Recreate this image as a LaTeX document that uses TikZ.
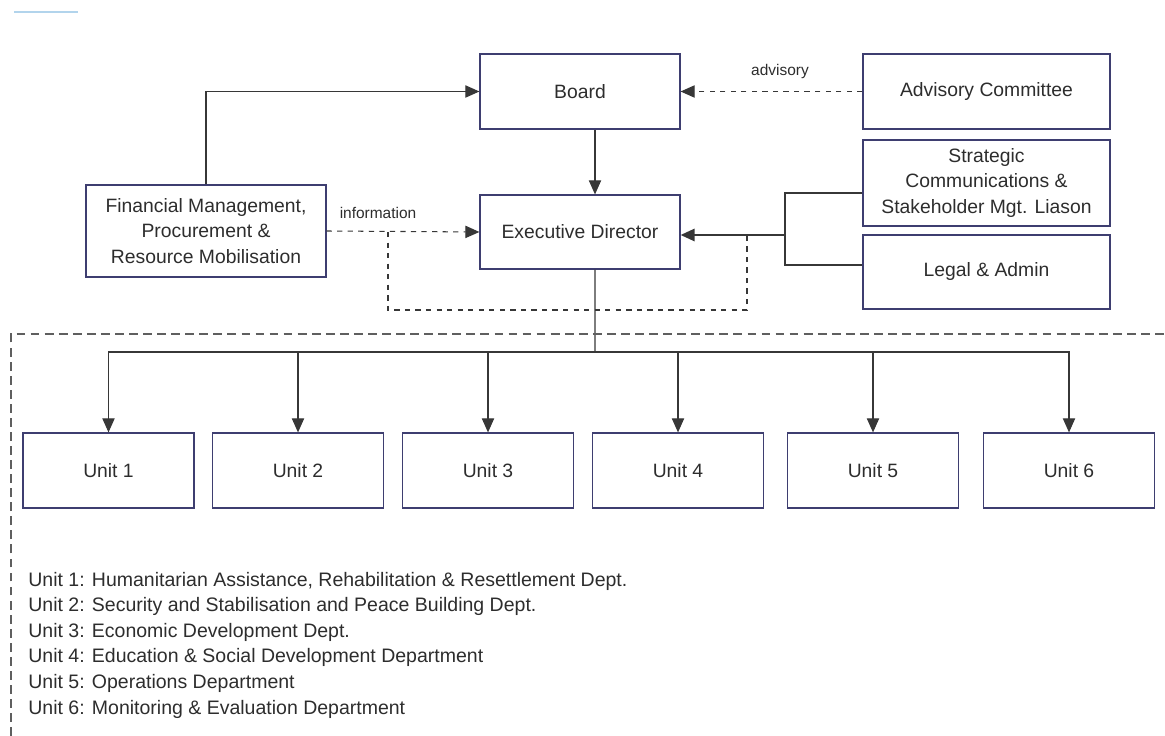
\documentclass[tikz,border=0pt]{standalone}
\usepackage{fontspec}
\setmainfont{Liberation Sans}
\usepackage{xcolor}
\usetikzlibrary{arrows.meta}
\definecolor{boxline}{RGB}{62,62,112}
\definecolor{wire}{RGB}{55,55,55}
\definecolor{txt}{RGB}{45,45,45}
\definecolor{topblue}{RGB}{178,212,236}

\begin{document}
\begin{tikzpicture}[x=0.02cm, y=-0.02cm,
        box/.style={draw=boxline, line width=0.7pt, text=txt, align=center,
            font=\fontsize{11}{14.5}\selectfont, inner sep=0pt},
        unitbox/.style={box, minimum width=3.42cm, minimum height=1.5cm},
        lbl/.style={text=txt, font=\fontsize{8.8}{11}\selectfont, inner sep=0pt},
        key/.style={lbl, font=\fontsize{11.1}{14}\selectfont, anchor=base west},
        conn/.style={draw=wire, line width=0.6pt},
        tip/.style={-{Triangle[length=8pt, width=7pt]}}]
        \useasboundingbox (0,0) rectangle (1165,736);
        \draw[topblue, line width=1.2pt] (14,12) -- (78,12);
        % top level
        \node[box, minimum width=4cm, minimum height=1.5cm](board) at (580,91.5) {Board};
        \node[box, minimum width=4.94cm, minimum height=1.5cm](adv) at (986.5,91.5) {Advisory Committee};
        \node[box, minimum width=4.94cm, minimum height=1.72cm](strat) at (986.5,183) {Strategic\\ Communications \&\\ Stakeholder Mgt. Liason};
        \node[box, minimum width=4.94cm, minimum height=1.48cm](legal) at (986.5,272) {Legal \& Admin};
        \node[box, minimum width=4cm, minimum height=1.48cm](ed) at (580,232) {Executive Director};
        \node[box, minimum width=4.8cm, minimum height=1.84cm](fin) at (206,231) {Financial Management,\\ Procurement \&\\ Resource Mobilisation};
        % units
        \node[unitbox](u1) at (108.5,470.5) {Unit 1};
        \node[unitbox](u2) at (298,470.5) {Unit 2};
        \node[unitbox](u3) at (488,470.5) {Unit 3};
        \node[unitbox](u4) at (678,470.5) {Unit 4};
        \node[unitbox](u5) at (873,470.5) {Unit 5};
        \node[unitbox](u6) at (1069,470.5) {Unit 6};
        % connectors
        \draw[conn, tip](fin.north) |- (board.west);
        \draw[conn, tip]([xshift=0.3cm]board.south) -- ([xshift=0.3cm]ed.north);
        \draw[conn, tip, dashed](adv.west) -- (board.east);
        \node[lbl](advlbl) at (780,72) {advisory};
        \draw[conn, tip, dashed](fin.east) -- (ed.west);
        \node[lbl](infolbl) at (378,213) {information};
        \coordinate(br) at (785,235);
        \draw[conn](strat.west |- 0,193) -| (br) |- (legal.west |- 0,265);
        \draw[conn, line width=1.2pt, tip](br) -- (ed.east |- br);
        \coordinate(la) at (388,232);
        \coordinate(lb) at (747,235);
        \draw[conn, dashed](la) |- (747,310) -- (lb);
        \coordinate(hub) at (595,352);
        \draw[conn]([xshift=0.3cm]ed.south) -- (hub);
        \draw[conn, tip](hub) -| (u1.north);
        \draw[conn, tip](hub) -| (u2.north);
        \draw[conn, tip](hub) -| (u3.north);
        \draw[conn, tip](hub) -| (u4.north);
        \draw[conn, tip](hub) -| (u5.north);
        \draw[conn, tip](hub) -| (u6.north);
        % frame round the units
        \draw[conn, dash pattern=on 5pt off 3pt, draw=wire!80](11,736) -- (11,334) -- (1165,334);
        % legend
        \node[key](k1) at (28,586) {Unit 1: Humanitarian Assistance, Rehabilitation \& Resettlement  Dept.};
        \node[key](k2) at (28,611.5) {Unit 2: Security and Stabilisation and Peace Building Dept.};
        \node[key](k3) at (28,637) {Unit 3: Economic Development Dept.};
        \node[key](k4) at (28,662.5) {Unit 4: Education \& Social Development Department};
        \node[key](k5) at (28,688) {Unit 5: Operations Department};
        \node[key](k6) at (28,714) {Unit 6: Monitoring \& Evaluation Department};
\end{tikzpicture}
\end{document}
